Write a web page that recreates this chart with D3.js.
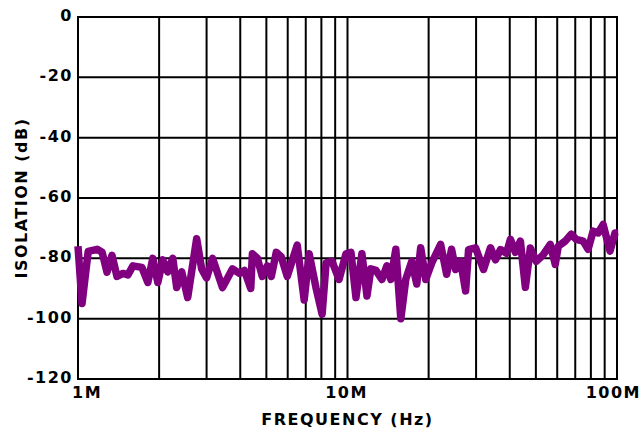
<!DOCTYPE html>
<html>
<head>
<meta charset="utf-8">
<script src="https://cdn.jsdelivr.net/npm/d3@7"></script>
<style>
  body { margin: 0; background: #fff; }
  text { font-family: "DejaVu Sans", sans-serif; font-weight: bold; letter-spacing: 1.5px; }
</style>
</head>
<body>
<div id="chart"></div>
<script>
// frequency in MHz, isolation in dB
var freqMHz = [1.00, 1.035, 1.091, 1.177, 1.229, 1.281, 1.337, 1.395, 1.469, 1.532,
    1.599, 1.726, 1.816, 1.895, 1.978, 2.064, 2.153, 2.247, 2.324, 2.426,
    2.553, 2.756, 2.876, 3.000, 3.158, 3.437, 3.744, 3.973, 4.146, 4.375,
    4.437, 4.630, 4.830, 5.040, 5.215, 5.442, 5.678, 5.976, 6.507, 6.907,
    7.207, 7.650, 8.050, 8.329, 8.763, 9.301, 9.871, 10.30, 10.75, 11.31,
    11.81, 12.21, 12.75, 13.42, 14.00, 14.48, 15.11, 15.77, 16.45, 17.31,
    18.07, 18.69, 19.51, 20.54, 22.16, 23.33, 24.33, 25.18, 26.29, 27.43,
    28.14, 29.87, 31.96, 33.93, 35.41, 36.94, 38.89, 40.23, 41.98, 43.80,
    45.71, 47.69, 50.18, 53.27, 56.55, 59.00, 60.53, 64.24, 67.61, 70.55,
    74.87, 78.13, 81.53, 85.08, 88.79, 94.23, 98.32, 101.0];
var isolation = [-76, -95, -77.7, -77, -78, -84.6, -79, -86, -85, -85.5,
    -82.5, -83, -88, -80, -88, -80.5, -84.5, -80, -89.7, -84.5,
    -93, -73.5, -83.5, -86.5, -80, -89.7, -83.5, -85, -84, -90,
    -78.5, -80, -86, -82.5, -86, -78, -79.5, -86, -75.6, -93.8,
    -78.5, -90, -98.5, -81.5, -81, -87, -78.5, -78, -93, -78.5,
    -92.5, -83.5, -84, -87, -82.5, -87, -77, -100, -87, -81,
    -88.5, -76.5, -87, -81.5, -75.4, -85.3, -77, -83.7, -81, -90.8,
    -77.1, -76.5, -83.7, -76.5, -80.5, -77.1, -78.3, -73.7, -78, -74.3,
    -89.6, -76.6, -81, -78.8, -75.4, -82, -76, -74.3, -72, -73.7,
    -74.3, -77, -71, -71.6, -68.8, -77.6, -71.6, -71.6];

var yTicks = [0, -20, -40, -60, -80, -100, -120];
var xLabels = ["1M", "10M", "100M"];
var xLabelValues = [1, 10, 100];

var width = 641, height = 432;
var margin = {top: 17, right: 24, bottom: 53, left: 78};

var svg = d3.select("#chart").append("svg")
    .attr("width", width)
    .attr("height", height);

var x = d3.scaleLog()
    .domain([1, 100])
    .range([margin.left, width - margin.right]);

var y = d3.scaleLinear()
    .domain([-120, 0])
    .range([height - margin.bottom, margin.top]);

// vertical grid: 1..10 in each decade
var gridX = [];
[1, 10].forEach(dec => d3.range(1, 10).forEach(m => gridX.push(dec * m)));
gridX.push(100);

svg.append("g")
    .selectAll("line")
    .data(gridX)
    .join("line")
    .attr("x1", d => x(d)).attr("x2", d => x(d))
    .attr("y1", y(0) - 1).attr("y2", y(-120) + 1)
    .attr("stroke", "#000")
    .attr("stroke-width", 2);

svg.append("g")
    .selectAll("line")
    .data(yTicks)
    .join("line")
    .attr("x1", x(1) - 1).attr("x2", x(100) + 1)
    .attr("y1", d => y(d)).attr("y2", d => y(d))
    .attr("stroke", "#000")
    .attr("stroke-width", 2);

// y tick labels
svg.append("g")
    .selectAll("text")
    .data(yTicks)
    .join("text")
    .attr("x", margin.left - 5)
    .attr("y", d => y(d))
    .attr("dy", "0.24em")
    .attr("text-anchor", "end")
    .style("font-size", "16px")
    .text(d => d);

// x tick labels
svg.append("g")
    .selectAll("text")
    .data(xLabels)
    .join("text")
    .attr("x", (d, i) => [x(xLabelValues[i]) - 6, x(xLabelValues[i]) - 1, width][i])
    .attr("y", y(-120) + 18.5)
    .attr("text-anchor", (d, i) => ["start", "middle", "end"][i])
    .style("font-size", "16px")
    .text(d => d);

svg.append("text")
    .attr("x", x(10))
    .attr("y", 425)
    .attr("text-anchor", "middle")
    .style("font-size", "16px")
    .text("FREQUENCY (Hz)");

svg.append("text")
    .attr("transform", `translate(26.5,${(y(0) + y(-120)) / 2}) rotate(-90)`)
    .attr("text-anchor", "middle")
    .style("font-size", "16px")
    .text("ISOLATION (dB)");

var line = d3.line()
    .x((d, i) => x(freqMHz[i]))
    .y(d => y(d));

svg.append("path")
    .datum(isolation)
    .attr("fill", "none")
    .attr("stroke", "#800080")
    .attr("stroke-width", 7.5)
    .attr("stroke-linejoin", "round")
    .attr("d", line);
</script>
</body>
</html>
